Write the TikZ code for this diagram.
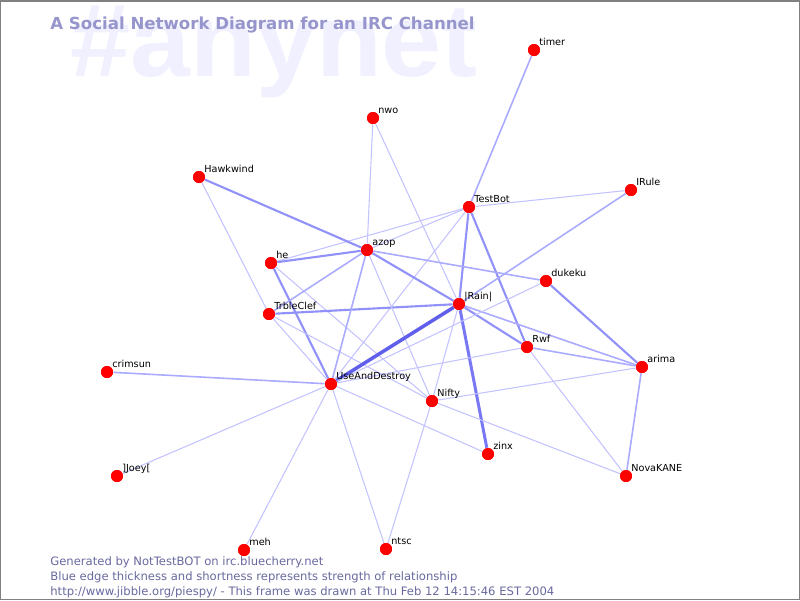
\documentclass[tikz,border=0pt]{standalone}
\usepackage{fontspec}
\setmainfont{DejaVu Sans}
\newfontfamily\bgfont{Liberation Sans}
\definecolor{bgtext}{RGB}{240,240,255}
\definecolor{titlec}{RGB}{150,150,205}
\definecolor{footc}{RGB}{105,105,160}
\definecolor{eA}{RGB}{195,195,255}
\definecolor{eB}{RGB}{170,170,255}
\definecolor{eC}{RGB}{145,145,250}
\definecolor{eD}{RGB}{120,120,245}
\definecolor{eE}{RGB}{95,95,235}
\definecolor{framec}{RGB}{128,128,128}
\begin{document}
\begin{tikzpicture}[x=0.02cm,y=-0.02cm,
  dot/.style={circle,fill=red,draw=none,inner sep=0pt,minimum size=0.24cm},
  lab/.style={anchor=base west,inner sep=0pt,font=\fontsize{5.5}{6}\selectfont,text=black},
  wa/.style={draw=eA,line width=0.6pt},
  wb/.style={draw=eB,line width=0.9pt},
  wc/.style={draw=eC,line width=1.2pt},
  wd/.style={draw=eD,line width=1.7pt},
  we/.style={draw=eE,line width=2.0pt},
  foot/.style={anchor=base west,inner sep=0pt,text=footc,font=\fontsize{6.6}{7}\selectfont}]
\useasboundingbox (0,0) rectangle (800,600);
\fill[white] (0,0) rectangle (800,600);
\node[anchor=base west,inner sep=0pt,text=bgtext,font=\bgfont\fontsize{59}{60}\bfseries] (bg) at (70,76) {\scalebox{1.04}[1]{\#anynet}};
\node[anchor=base west,inner sep=0pt,text=titlec,font=\fontsize{9.45}{10}\bfseries] (title) at (50,29) {A Social Network Diagram for an IRC Channel};
% nodes
\node[dot] (timer) at (534,50) {};
\node[dot] (nwo) at (373,118) {};
\node[dot] (hawk) at (199,177) {};
\node[dot] (irule) at (631,190) {};
\node[dot] (testbot) at (469,207) {};
\node[dot] (azop) at (367,250) {};
\node[dot] (he) at (271,263) {};
\node[dot] (dukeku) at (546,281) {};
\node[dot] (rain) at (459,304) {};
\node[dot] (trble) at (269,314) {};
\node[dot] (rwf) at (527,347) {};
\node[dot] (arima) at (642,367) {};
\node[dot] (crimsun) at (107,372) {};
\node[dot] (uad) at (331,384) {};
\node[dot] (nifty) at (432,401) {};
\node[dot] (zinx) at (488,454) {};
\node[dot] (nova) at (626,476) {};
\node[dot] (joey) at (117,476) {};
\node[dot] (meh) at (244,550) {};
\node[dot] (ntsc) at (386,549) {};
% edges
\draw[wb] (timer) -- (testbot);
\draw[wa] (testbot) -- (irule);
\draw[wc] (testbot) -- (rain);
\draw[wc] (testbot) -- (rwf);
\draw[wa] (testbot) -- (he);
\draw[wa] (testbot) -- (azop);
\draw[wa] (testbot) -- (uad);
\draw[wa] (nwo) -- (azop);
\draw[wa] (nwo) -- (rain);
\draw[wc] (hawk) -- (azop);
\draw[wa] (hawk) -- (trble);
\draw[wb] (irule) -- (rain);
\draw[wc] (he) -- (azop);
\draw[wc] (he) -- (uad);
\draw[wa] (he) -- (nifty);
\draw[wb] (trble) -- (azop);
\draw[wc] (trble) -- (rain);
\draw[wa] (trble) -- (uad);
\draw[wa] (trble) -- (nifty);
\draw[wc] (azop) -- (rain);
\draw[wb] (azop) -- (dukeku);
\draw[wb] (azop) -- (uad);
\draw[wa] (azop) -- (nifty);
\draw[we] (rain) -- (uad);
\draw[wd] (rain) -- (zinx);
\draw[wa] (rain) -- (nifty);
\draw[wc] (rain) -- (rwf);
\draw[wb] (rain) -- (arima);
\draw[wc] (dukeku) -- (arima);
\draw[wa] (dukeku) -- (uad);
\draw[wb] (rwf) -- (arima);
\draw[wa] (rwf) -- (uad);
\draw[wa] (rwf) -- (nova);
\draw[wa] (arima) -- (nifty);
\draw[wb] (arima) -- (nova);
\draw[wa] (nifty) -- (nova);
\draw[wa] (nifty) -- (ntsc);
\draw[wb] (crimsun) -- (uad);
\draw[wa] (joey) -- (uad);
\draw[wa] (meh) -- (uad);
\draw[wa] (ntsc) -- (uad);
\draw[wa] (zinx) -- (uad);
% redraw dots on top
\foreach \n in {timer,nwo,hawk,irule,testbot,azop,he,dukeku,rain,trble,rwf,arima,crimsun,uad,nifty,zinx,nova,joey,meh,ntsc}
  \fill[red] (\n) circle (0.12cm);
% labels
\node[lab] (timerL) at (539,45) {timer};
\node[lab] (nwoL) at (378,113) {nwo};
\node[lab] (hawkL) at (204,172) {Hawkwind};
\node[lab] (iruleL) at (636,185) {IRule};
\node[lab] (testbotL) at (474,202) {TestBot};
\node[lab] (azopL) at (372,245) {azop};
\node[lab] (heL) at (276,258) {he};
\node[lab] (dukekuL) at (551,276) {dukeku};
\node[lab] (rainL) at (464,299) {|Rain|};
\node[lab] (trbleL) at (274,309) {TrbleClef};
\node[lab] (rwfL) at (532,342) {Rwf};
\node[lab] (arimaL) at (647,362) {arima};
\node[lab] (crimsunL) at (112,367) {crimsun};
\node[lab] (uadL) at (336,379) {UseAndDestroy};
\node[lab] (niftyL) at (437,396) {Nifty};
\node[lab] (zinxL) at (493,449) {zinx};
\node[lab] (novaL) at (631,471) {NovaKANE};
\node[lab] (joeyL) at (122,471) {]Joey[};
\node[lab] (mehL) at (249,545) {meh};
\node[lab] (ntscL) at (391,544) {ntsc};
% footer
\node[foot] (f1) at (50,565) {Generated by NotTestBOT on irc.bluecherry.net};
\node[foot] (f2) at (50,580) {Blue edge thickness and shortness represents strength of relationship};
\node[foot] (f3) at (50,595) {http://www.jibble.org/piespy/ - This frame was drawn at Thu Feb 12 14:15:46 EST 2004};
\draw[framec,line width=0.85pt] (0.75,0.75) rectangle (799.25,599.25);
\end{tikzpicture}
\end{document}
